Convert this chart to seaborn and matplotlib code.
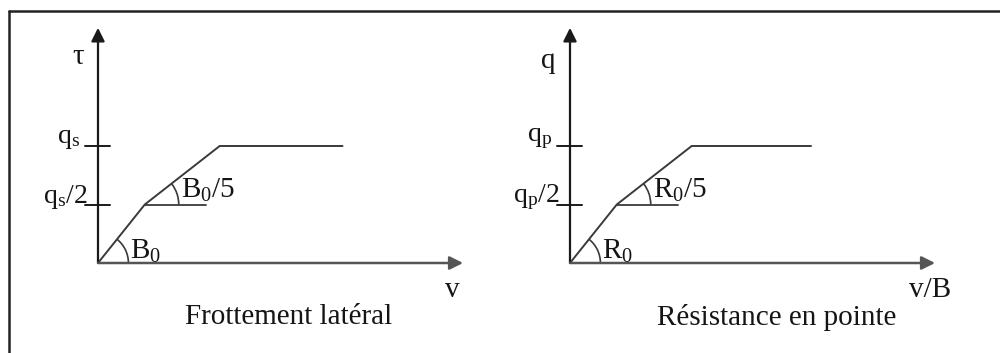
import numpy as np
import pandas as pd
import matplotlib
matplotlib.use("Agg")
import matplotlib.pyplot as plt
from matplotlib.patches import Arc
from matplotlib.lines import Line2D
import seaborn as sns

sns.set_theme(style="white")
plt.rcParams["font.family"] = ["Liberation Serif", "DejaVu Serif"]
plt.rcParams["mathtext.fontset"] = "custom"
plt.rcParams["mathtext.rm"] = "Liberation Serif"
plt.rcParams["mathtext.it"] = "Liberation Serif:italic"
plt.rcParams["text.color"] = "#151515"

# Mobilisation law for lateral friction (tau vs displacement v)
side_v = [0.0, 0.40, 1.04, 2.09]
side_tau = [0.0, 0.5, 1.0, 1.0]
# Mobilisation law for tip resistance (q vs v/B)
tip_vB = [0.0, 0.40, 1.04, 2.06]
tip_q = [0.0, 0.5, 1.0, 1.0]

level_values = [1.0, 0.5]
side_tick_labels = [r"$\mathrm{q_s}$", r"$\mathrm{q_s/2}$"]
tip_tick_labels = [r"$\mathrm{q_p}$", r"$\mathrm{q_p/2}$"]

panels = [
    dict(x=side_v, y=side_tau, ylab="τ", xlab="v", title="Frottement latéral",
         ticks=side_tick_labels, a1=r"$\mathrm{B_0}$", a2=r"$\mathrm{B_0/5}$",
         rect=[0.048, 0.0, 0.450, 1.0], xlim=(-50 / 117, 400 / 117),
         ylab_xy=(-0.17, 1.76), xlab_xy=(3.03, -0.23), title_xy=(1.63, -0.46)),
    dict(x=tip_vB, y=tip_q, ylab="q", xlab="v/B", title="Résistance en pointe",
         ticks=tip_tick_labels, a1=r"$\mathrm{R_0}$", a2=r"$\mathrm{R_0/5}$",
         rect=[0.520, 0.0, 0.460, 1.0], xlim=(-50 / 117, 410 / 117),
         ylab_xy=(-0.19, 1.73), xlab_xy=(3.08, -0.23), title_xy=(1.77, -0.47)),
]

fig = plt.figure(figsize=(10, 3.53), dpi=100)
fig.patch.set_facecolor("white")

# Frame (top and left edges)
fig.add_artist(Line2D([0.0085, 0.0085], [1 - 11 / 353, 0], color="#222222", lw=1.8,
                      transform=fig.transFigure))
fig.add_artist(Line2D([0.0085, 1.0], [1 - 11 / 353, 1 - 11 / 353], color="#222222", lw=1.8,
                      transform=fig.transFigure))

axis_color = "#1a1a1a"
curve_color = "#3a3a3a"
fs = 21

for p in panels:
    ax = fig.add_axes(p["rect"])
    ax.set_xlim(*p["xlim"])
    ax.set_ylim(-90 / 117, 263 / 117)
    ax.axis("off")

    df = pd.DataFrame({"x": p["x"], "y": p["y"]})
    sns.lineplot(data=df, x="x", y="y", ax=ax, color=curve_color, lw=1.4,
                 sort=False, estimator=None)

    # Axes with arrowheads
    ax.annotate("", xy=(0, 2.01), xytext=(0, 0),
                arrowprops=dict(arrowstyle="-|>", color=axis_color, lw=1.6,
                                mutation_scale=20, shrinkA=0, shrinkB=0))
    ax.annotate("", xy=(3.12, 0), xytext=(0, 0),
                arrowprops=dict(arrowstyle="-|>", color="#555555", lw=1.8,
                                mutation_scale=20, shrinkA=0, shrinkB=0))

    # Level ticks and labels
    for lvl in level_values:
        ax.plot([-0.11, 0.10], [lvl, lvl], color=axis_color, lw=1.4)
    ax.text(-0.15, 1.06, p["ticks"][0], ha="right", va="center", fontsize=fs - 1)
    ax.text(-0.09, 0.56, p["ticks"][1], ha="right", va="center", fontsize=fs - 1)

    # Horizontal reference from the break point
    bx, by = p["x"][1], p["y"][1]
    ax.plot([bx, bx + 0.52], [by, by], color=curve_color, lw=1.3)

    # Angle arcs
    ang1 = np.degrees(np.arctan2(p["y"][1] - p["y"][0], p["x"][1] - p["x"][0]))
    ang2 = np.degrees(np.arctan2(p["y"][2] - p["y"][1], p["x"][2] - p["x"][1]))
    ax.add_patch(Arc((0, 0), 0.52, 0.52, theta1=0, theta2=ang1, color=curve_color, lw=1.2))
    ax.add_patch(Arc((bx, by), 0.58, 0.58, theta1=0, theta2=ang2, color=curve_color, lw=1.2))
    ax.text(0.27, 0.10, p["a1"], ha="left", va="center", fontsize=fs)
    ax.text(bx + 0.31, 0.62, p["a2"], ha="left", va="center", fontsize=fs)

    # Axis names and caption
    ax.text(*p["ylab_xy"], p["ylab"], ha="center", va="center", fontsize=fs)
    ax.text(*p["xlab_xy"], p["xlab"], ha="center", va="center", fontsize=fs)
    ax.text(*p["title_xy"], p["title"], ha="center", va="center", fontsize=fs)

fig.savefig("out.png", dpi=100, facecolor="white")
